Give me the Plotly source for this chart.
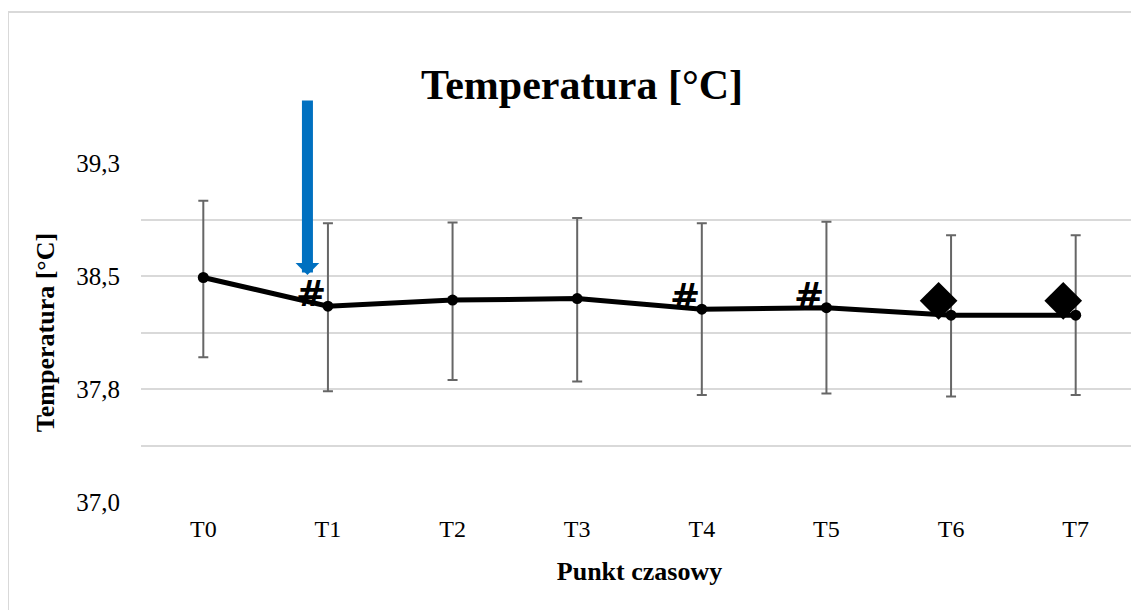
import plotly.graph_objects as go

categories = ["T0", "T1", "T2", "T3", "T4", "T5", "T6", "T7"]
mean_temp = [38.49, 38.30, 38.34, 38.35, 38.28, 38.29, 38.24, 38.24]
upper_bound = [39.00, 38.85, 38.855, 38.885, 38.85, 38.86, 38.77, 38.77]
lower_bound = [37.96, 37.735, 37.81, 37.80, 37.71, 37.72, 37.70, 37.71]
hash_points = ["T1", "T4", "T5"]
diamond_points = ["T6", "T7"]
ytick_vals = [37.0, 37.75, 38.5, 39.25]
ytick_text = ["37,0", "37,8", "38,5", "39,3"]
ygrid_minor = [37.375, 38.125, 38.875]

idx = list(range(len(categories)))
err_plus = [u - m for u, m in zip(upper_bound, mean_temp)]
err_minus = [m - l for m, l in zip(mean_temp, lower_bound)]

FONT = "Liberation Serif"
OFF = 8  # page body margin

fig = go.Figure()
fig.add_trace(go.Scatter(
    x=idx, y=mean_temp, mode="lines+markers",
    line=dict(color="black", width=5),
    marker=dict(color="black", size=11),
    error_y=dict(type="data", symmetric=False, array=err_plus, arrayminus=err_minus,
                 color="#666666", thickness=2, width=5),
    showlegend=False,
))

d_idx = [categories.index(c) for c in diamond_points]
fig.add_trace(go.Scatter(
    x=[i - 0.1 for i in d_idx], y=[mean_temp[i] + 0.095 for i in d_idx],
    mode="markers",
    marker=dict(symbol="diamond", color="black", size=29),
    showlegend=False,
))

annotations = []
for c in hash_points:
    i = categories.index(c)
    annotations.append(dict(
        x=i, y=mean_temp[i], xref="x", yref="y", text="#", showarrow=False,
        xshift=-17, yshift=13,
        font=dict(family="DejaVu Serif", size=36, color="black", weight="bold"),
    ))

t1 = categories.index("T1")
annotations.append(dict(
    x=t1, y=38.507, xref="x", yref="y", text="", showarrow=True,
    ax=0, ay=-176, axref="pixel", ayref="pixel", xshift=-20.5,
    arrowhead=1, arrowsize=0.36, arrowwidth=11, arrowcolor="#0070C0",
))

fig.update_layout(
    width=1139, height=610,
    margin=dict(l=141 - OFF, r=1 + OFF, t=163 - OFF, b=108 + OFF),
    paper_bgcolor="white", plot_bgcolor="white",
    font=dict(family=FONT, color="black"),
    title=dict(text="Temperatura [°C]", x=(582 - OFF) / 1139, xref="container", xanchor="center",
               y=1 - (84 - OFF) / 610, yref="container", yanchor="middle",
               font=dict(family=FONT, size=42, color="black", weight="bold")),
    annotations=annotations,
    shapes=[dict(type="rect", xref="paper", yref="paper",
                 x0=(8 - 141) / 997, x1=1.2, y0=-0.4, y1=1 + (163 - 12) / 339,
                 line=dict(color="#d9d9d9", width=2), fillcolor="rgba(0,0,0,0)", layer="below")],
)

fig.update_xaxes(
    range=[-0.5, len(categories) - 0.5],
    tickmode="array", tickvals=idx, ticktext=categories,
    tickfont=dict(family=FONT, size=24, color="black"),
    showgrid=False, zeroline=False, showline=False, ticks="",
    ticklabelstandoff=10,
    title=dict(text="Punkt czasowy", standoff=20,
               font=dict(family=FONT, size=26, color="black", weight="bold")),
)
fig.update_yaxes(
    range=[37.0, 39.25],
    tickmode="array", tickvals=ytick_vals, ticktext=ytick_text,
    tickfont=dict(family=FONT, size=25, color="black"),
    showgrid=True, gridcolor="#d9d9d9", gridwidth=2,
    minor=dict(tickmode="array", tickvals=ygrid_minor, showgrid=True, gridcolor="#d9d9d9", gridwidth=2),
    zeroline=False, showline=False, ticks="",
    ticklabelstandoff=20,
    title=dict(text="Temperatura [°C]", standoff=14,
               font=dict(family=FONT, size=26, color="black", weight="bold")),
)

fig.write_html("out.html")
